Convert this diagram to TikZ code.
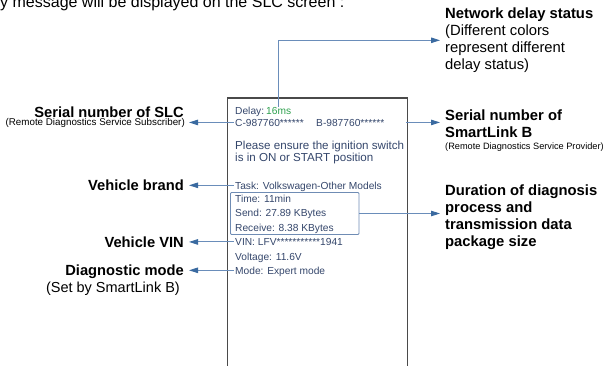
\documentclass[tikz,border=0pt]{standalone}
\usepackage{fontspec}
\setmainfont{Liberation Sans}
\usetikzlibrary{arrows.meta}
\definecolor{ScrText}{HTML}{34466B}
\definecolor{ArrLine}{HTML}{6A8DBA}
\definecolor{ArrTip}{HTML}{3A6AA0}
\definecolor{DelayGreen}{HTML}{2EA04E}
\definecolor{FrameGray}{HTML}{4A4A4A}
\definecolor{BoxBlue}{HTML}{6F8CB4}

\begin{document}
\begin{tikzpicture}[x=1pt, y=-1pt,
  scr/.style={anchor=base west, inner sep=0pt, inner xsep=1.5pt, text depth=0pt,
    text=ScrText, font=\fontsize{10.2}{12}\selectfont},
  lab/.style={anchor=base east, inner sep=0pt, inner xsep=5pt,
    font=\bfseries\fontsize{14.7}{17}\selectfont},
  labsub/.style={anchor=base east, inner sep=0pt, inner xsep=5pt,
    font=\fontsize{14.5}{17}\selectfont},
  rlab/.style={anchor=north west, inner sep=0pt, inner xsep=5pt, align=left,
    font=\fontsize{14.8}{16.8}\selectfont},
  link/.style={draw=ArrLine, line width=0.9pt,
    -{Triangle[length=9pt, width=5.5pt, color=ArrTip]}}]
  \useasboundingbox (0,0) rectangle (614,365);
  % Caption line (cut at the top)
  \node[anchor=base west, inner sep=0pt, font=\fontsize{16}{19}\selectfont] (caption)
    at (0,7.5) {y message will be displayed on the SLC screen :};
  % Screen
  \draw[FrameGray, line width=1.3pt] (227.5,366) -- (227.5,98) -- (407.5,98) -- (407.5,366);
  \node[scr] (delay) at (233.5,114.5) {Delay:};
  \node[scr, text=DelayGreen, inner xsep=0pt] (delayval) at (266,114.5) {16ms};
  \node[scr] (cserial) at (233.5,126) {C-987760******};
  \node[scr] (bserial) at (314.5,126) {B-987760******};
  \node[scr, font=\fontsize{11.6}{12}\selectfont] (notice) at (233.5,149) {Please ensure the ignition switch};
  \node[scr, font=\fontsize{11.6}{12}\selectfont] (notice2) at (233.5,161) {is in ON or START position};
  \node[scr] (task) at (233.5,189) {Task: Volkswagen-Other Models};
  \node[draw=BoxBlue, line width=0.8pt, rounded corners=1pt, inner sep=0pt,
    minimum width=128.5pt, minimum height=42pt] (timebox) at (294.75,213.5) {};
  \node[scr] (time) at (233.5,202) {Time: 11min};
  \node[scr] (send) at (233.5,216.5) {Send: 27.89 KBytes};
  \node[scr] (recv) at (233.5,231) {Receive: 8.38 KBytes};
  \node[scr] (vin) at (233.5,245.5) {VIN: LFV***********1941};
  \node[scr] (volt) at (233.5,260) {Voltage: 11.6V};
  \node[scr] (mode) at (233.5,274) {Mode: Expert mode};
  % Left labels
  \node[lab, anchor=north east, align=right] (slc) at (189,106.3)
    {Serial number of SLC\\[-8.6pt]{\mdseries\fontsize{9.8}{11}\selectfont(Remote Diagnostics Service Subscriber)\kern-1pt}};
  \node[lab] (brand) at (189,190.7) {Vehicle brand};
  \node[lab] (vinlab) at (189,247.2) {Vehicle VIN};
  \node[lab] (diag) at (189,275.7) {Diagnostic mode};
  \node[labsub] (diagsub) at (185,292) {(Set by SmartLink B)};
  % Right labels
  \node[rlab] (netlab) at (440,8) {\textbf{Network delay status}\\(Different colors\\represent different\\delay status)};
  \node[rlab] (sllab) at (440,109.5) {\textbf{Serial number of}\\\textbf{SmartLink B}\\[-4.5pt]{\fontsize{9.2}{11}\selectfont(Remote Diagnostics Service Provider)}};
  \node[rlab, font=\bfseries\fontsize{14.8}{16.8}\selectfont] (durlab) at (440,185)
    {Duration of diagnosis\\process and\\transmission data\\package size};
  % Connectors
  \draw[link] (delayval.north) |- (netlab.west);
  \draw[link] (cserial.west) -- (cserial.west -| slc.east);
  \draw[link, shorten <=20pt] (bserial.east) -- (bserial.east -| sllab.west);
  \draw[link] (task.west) -- (task.west -| brand.east);
  \draw[link] (timebox.east) -- (timebox.east -| durlab.west);
  \draw[link] (vin.west) -- (vin.west -| vinlab.east);
  \draw[link] (mode.west) -- (mode.west -| diag.east);
\end{tikzpicture}
\end{document}
